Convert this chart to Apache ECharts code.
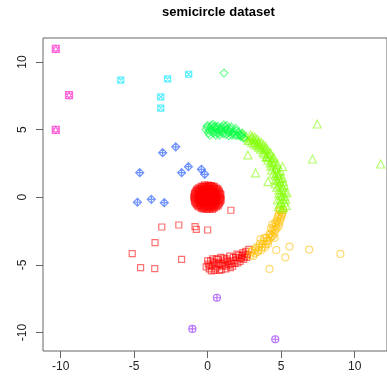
<!DOCTYPE html>
<html><head><meta charset="utf-8">
<script src="https://cdn.jsdelivr.net/npm/echarts@6/dist/echarts.min.js"></script>
<style>html,body{margin:0;padding:0;background:#fff}#c{width:387px;height:383px}</style>
</head><body><div id="c"></div>
<script>
const title = "semicircle dataset";
const xTicks = [-10, -5, 0, 5, 10];
const yTicks = [-10, -5, 0, 5, 10];

// cluster 1 (red squares): dense blob, scattered points, lower arc
const redBlob = [
 [-0.2,0.92],[0.05,0.9],[0.25,0.87],
 [-0.3,0.82],[-0.05,0.8],[0.2,0.84],[0.35,0.78],
 [-0.6,0.7],[-0.4,0.74],[-0.2,0.69],[0.0,0.72],[0.2,0.7],[0.4,0.73],[0.58,0.68],
 [-0.75,0.53],[-0.55,0.57],[-0.35,0.52],[-0.15,0.56],[0.05,0.54],[0.25,0.58],[0.45,0.52],[0.7,0.55],
 [-0.85,0.35],[-0.62,0.39],[-0.45,0.34],[-0.25,0.38],[-0.05,0.36],[0.15,0.4],[0.35,0.35],[0.55,0.38],[0.8,0.36],
 [-0.9,0.17],[-0.7,0.2],[-0.5,0.16],[-0.3,0.19],[-0.1,0.15],[0.1,0.2],[0.3,0.17],[0.5,0.21],[0.7,0.16],[0.9,0.19],
 [-0.95,0.01],[-0.75,-0.02],[-0.55,0.03],[-0.35,-0.01],[-0.15,0.02],[0.05,-0.03],[0.25,0.0],[0.45,0.03],[0.65,-0.02],[0.88,0.01],
 [-0.9,-0.17],[-0.68,-0.2],[-0.48,-0.16],[-0.28,-0.19],[-0.08,-0.15],[0.12,-0.2],[0.32,-0.17],[0.52,-0.21],[0.72,-0.16],[0.92,-0.18],
 [-0.85,-0.36],[-0.65,-0.39],[-0.42,-0.34],[-0.22,-0.38],[0.0,-0.36],[0.2,-0.4],[0.4,-0.35],[0.6,-0.38],[0.82,-0.37],
 [-0.75,-0.54],[-0.52,-0.57],[-0.32,-0.53],[-0.12,-0.56],[0.08,-0.52],[0.3,-0.57],[0.5,-0.54],[0.72,-0.55],
 [-0.6,-0.71],[-0.38,-0.74],[-0.18,-0.7],[0.02,-0.73],[0.22,-0.69],[0.42,-0.74],[0.6,-0.7],
 [-0.32,-0.86],[-0.1,-0.9],[0.12,-0.87],[0.33,-0.89],
 [-0.45,0.8],[-0.15,0.79],[0.1,0.81],[0.45,0.8],
 [-0.7,0.63],[-0.5,0.62],[-0.3,0.64],[-0.1,0.62],[0.1,0.64],[0.3,0.62],[0.5,0.64],[0.68,0.62],
 [-0.8,0.46],[-0.65,0.45],[-0.45,0.47],[-0.25,0.45],[-0.05,0.47],[0.15,0.45],[0.35,0.47],[0.6,0.45],[0.78,0.46],
 [-0.88,0.28],[-0.6,0.27],[-0.35,0.29],[-0.15,0.27],[0.05,0.29],[0.25,0.27],[0.45,0.29],[0.65,0.27],[0.85,0.28],
 [-0.85,0.09],[-0.65,0.08],[-0.45,0.1],[-0.25,0.08],[-0.05,0.1],[0.15,0.08],[0.35,0.1],[0.55,0.08],[0.78,0.09],
 [-0.8,-0.09],[-0.6,-0.08],[-0.4,-0.1],[-0.2,-0.08],[0.0,-0.1],[0.2,-0.08],[0.4,-0.1],[0.6,-0.08],[0.82,-0.09],
 [-0.88,-0.28],[-0.55,-0.27],[-0.35,-0.29],[-0.12,-0.27],[0.1,-0.29],[0.3,-0.27],[0.5,-0.29],[0.7,-0.27],[0.88,-0.28],
 [-0.8,-0.46],[-0.55,-0.45],[-0.32,-0.47],[-0.1,-0.45],[0.12,-0.47],[0.35,-0.45],[0.55,-0.47],[0.78,-0.46],
 [-0.68,-0.63],[-0.48,-0.62],[-0.28,-0.64],[-0.08,-0.62],[0.12,-0.64],[0.32,-0.62],[0.52,-0.64],[0.7,-0.63],
 [-0.45,-0.8],[-0.22,-0.81],[0.0,-0.79],[0.22,-0.81],[0.45,-0.8]
];
const redScatter = [
 [-3.12,-2.2],[-1.96,-2.05],[-0.86,-2.17],[-0.77,-2.37],[0.0,-2.42],[-3.58,-3.36],
 [-5.13,-4.17],[-4.56,-5.2],[-3.6,-5.28],[-1.77,-4.59],[1.58,-0.96]
];
const redArc = [
 [0.05,-4.95],[0.1,-5.3],[0.2,-4.7],[0.3,-5.1],[0.45,-5.4],[0.5,-4.85],[0.65,-5.15],[0.7,-4.6],
 [0.85,-5.0],[0.95,-5.35],[1.05,-4.8],[1.2,-5.1],[1.3,-4.55],[1.4,-4.95],[1.55,-5.2],[1.6,-4.7],
 [1.75,-4.45],[1.85,-4.9],[1.95,-4.65],[2.1,-4.3],[2.2,-4.75],[2.3,-4.5],[2.4,-4.1],[2.5,-4.4],
 [2.6,-4.0],[2.7,-4.25],[2.8,-3.85],[0.35,-4.55],[0.9,-4.45],[1.5,-4.35],[-0.1,-5.15],[0.25,-5.45],
 [0.15,-5.05],[0.4,-4.8],[0.55,-5.3],[0.75,-4.9],[0.8,-5.4],[1.0,-5.05],[1.15,-4.65],[1.25,-5.3],
 [1.35,-4.75],[1.5,-5.0],[1.65,-4.9],[1.7,-5.1],[1.9,-4.45],[2.05,-4.85],[2.15,-4.5],[2.35,-4.3],
 [2.45,-4.6],[2.55,-4.2],[2.65,-4.45],[0.0,-4.7],[0.6,-4.55],[1.1,-4.5],[2.0,-4.2]
];
// cluster 2 (orange circles)
const orangeArc = [
 [2.9,-4.3],[3.05,-3.95],[3.2,-4.15],[3.3,-3.7],[3.45,-3.95],[3.55,-3.45],[3.7,-3.7],[3.8,-3.25],
 [3.95,-3.5],[4.0,-3.0],[4.15,-3.2],[4.2,-2.75],[4.35,-2.9],[4.4,-2.45],[4.55,-2.65],[4.5,-2.2],
 [4.7,-2.3],[4.6,-1.9],[4.8,-1.95],[4.75,-1.55],[4.95,-1.6],[4.85,-1.25],[5.05,-1.3],[4.95,-1.0],
 [5.15,-0.95],[4.55,-3.0],[3.6,-3.1],[4.3,-2.3],
 [2.95,-4.05],[3.1,-4.35],[3.25,-3.85],[3.4,-4.05],[3.5,-3.7],[3.65,-3.9],[3.75,-3.45],[3.9,-3.7],
 [4.05,-3.25],[4.1,-3.45],[4.25,-3.0],[4.3,-2.7],[4.45,-2.85],[4.6,-2.4],[4.65,-2.1],[4.85,-2.15],
 [4.7,-1.75],[4.9,-1.8],[4.8,-1.4],[5.0,-1.45],[5.1,-1.15],[4.9,-0.95],[3.85,-3.0],[4.4,-2.0]
];
const orangeOut = [[4.67,-3.9],[5.57,-3.65],[6.91,-3.87],[9.03,-4.19],[5.28,-4.44],[4.21,-5.3]];
// cluster 3 (chartreuse triangles)
const limeArc = [
 [5.05,-0.85],[4.8,-0.7],[5.35,-0.6],[5.0,-0.4],[4.75,-0.2],[5.3,-0.15],[5.1,0.1],[4.85,0.3],
 [5.4,0.35],[5.05,0.55],[4.7,0.75],[5.2,0.9],[4.95,1.1],[4.6,1.3],[5.1,1.45],[4.8,1.6],
 [4.45,1.75],[4.95,1.95],[4.6,2.1],[4.3,2.3],[4.75,2.45],[4.4,2.65],[4.1,2.75],[4.5,2.95],
 [4.15,3.05],[3.85,3.2],[4.25,3.35],[3.9,3.5],[3.6,3.55],[3.95,3.75],[3.55,3.8],[3.3,3.85],
 [3.65,4.05],[3.25,4.1],[3.0,4.05],[3.35,4.3],[2.95,4.35],[2.75,4.2],[3.05,4.5],[4.1,1.15],
 [2.74,3.13],[5.1,2.26],[4.0,3.0],[4.6,1.0],[2.5,4.55],[2.35,4.7],
 [5.15,-0.75],[4.9,-0.5],[5.2,-0.35],[4.95,-0.1],[5.25,0.05],[4.95,0.15],[5.25,0.45],[4.85,0.55],
 [5.1,0.75],[4.85,0.9],[5.15,1.15],[4.75,1.25],[4.9,1.4],[4.6,1.6],[4.85,1.75],[4.7,1.85],
 [4.35,2.0],[4.7,2.2],[4.45,2.4],[4.6,2.6],[4.25,2.55],[4.35,2.85],[4.0,2.95],[4.3,3.15],
 [4.05,3.25],[3.75,3.35],[4.05,3.55],[3.75,3.65],[3.45,3.7],[3.8,3.9],[3.45,3.95],[3.15,3.95],
 [3.5,4.15],[3.15,4.25],[2.85,4.25],[3.2,4.45],[2.65,4.45],[2.9,4.6]
];
const limeOut = [[7.45,5.42],[7.13,2.83],[11.77,2.46],[3.26,1.8]];
// cluster 4 (green diamonds)
const greenArc = [
 [-0.1,5.0],[0.0,5.3],[0.05,4.75],[0.2,5.15],[0.3,4.9],[0.35,5.4],[0.5,5.05],[0.6,4.8],
 [0.7,5.25],[0.85,4.95],[0.95,5.2],[1.05,4.7],[1.2,5.0],[1.3,5.3],[1.4,4.8],[1.55,5.05],
 [1.65,4.6],[1.8,4.85],[1.9,5.1],[2.0,4.55],[2.1,4.8],[2.25,4.5],[2.35,4.75],[2.45,4.4],
 [0.15,4.6],[0.8,4.6],[1.45,4.55],[0.45,5.2],[1.1,5.35],
 [0.1,4.95],[0.25,5.3],[0.4,4.75],[0.55,5.25],[0.65,5.0],[0.75,4.75],[0.9,5.05],[1.0,4.85],
 [1.15,5.2],[1.25,4.65],[1.35,5.05],[1.5,4.85],[1.6,5.2],[1.7,4.75],[1.85,4.6],[1.95,4.9],
 [2.15,4.6],[2.3,4.55],[-0.05,5.2],[0.55,4.6]
];
const greenOut = [[1.11,9.19]];
// cluster 5 (cyan squares with x)
const cyanPts = [[-5.91,8.67],[-2.72,8.75],[-3.19,7.42],[-3.19,6.6],[-1.29,9.1]];
// cluster 6 (blue diamonds with plus)
const bluePts = [[-4.62,1.82],[-3.06,3.3],[-2.17,3.73],[-1.77,1.82],[-1.31,2.26],[-0.43,2.07],
 [-0.2,1.7],[-4.78,-0.37],[-3.83,-0.15],[-2.95,-0.4]];
// cluster 7 (purple circles with plus)
const purplePts = [[0.63,-7.43],[-1.04,-9.74],[4.6,-10.5]];
// cluster 8 (magenta squares with triangle)
const magentaPts = [[-10.33,10.97],[-9.43,7.55],[-10.33,4.98]];

const clusters = [
 {data: redBlob.concat(redScatter, redArc), color: 'rgba(255,0,0,0.7)', symbol: 'rect', size: 6},
 {data: orangeArc.concat(orangeOut), color: 'rgba(255,191,0,0.7)', symbol: 'circle', size: 7},
 {data: limeArc.concat(limeOut), color: 'rgba(128,255,0,0.7)', symbol: 'triangle', size: 8},
 {data: greenArc.concat(greenOut), color: 'rgba(0,255,64,0.7)', symbol: 'diamond', size: 8},
 {data: cyanPts, color: 'rgba(0,230,255,0.8)', symbol: 'path://M0,0H10V10H0Z M0,0L10,10 M10,0L0,10', size: 6},
 {data: bluePts, color: 'rgba(0,64,255,0.7)', symbol: 'path://M5,0L10,5L5,10L0,5Z M5,0V10 M0,5H10', size: 8},
 {data: purplePts, color: 'rgba(128,0,255,0.7)', symbol: 'path://M0,5A5,5 0 1,0 10,5A5,5 0 1,0 0,5Z M5,0V10 M0,5H10', size: 7},
 {data: magentaPts, color: 'rgba(255,0,191,0.75)', symbol: 'path://M0,0H10V10H0Z M0,10L5,0L10,10 M0,0L5,10L10,0', size: 7}
];

const chart = echarts.init(document.getElementById('c'), null, {renderer: 'canvas'});
const font = 'Liberation Sans, Arial, sans-serif';
chart.setOption({
  animation: false,
  backgroundColor: '#fff',
  title: {text: title, left: 162, top: 6, padding: 0,
    textStyle: {fontFamily: font, fontWeight: 'bold', fontSize: 13, color: '#000'}},
  grid: {left: 43, right: 0, top: 38, bottom: 32, show: true, borderColor: '#666', borderWidth: 1, backgroundColor: 'transparent'},
  xAxis: {type: 'value', min: -11.2, max: 12.2, interval: 5,
    axisLine: {show: false, onZero: false}, splitLine: {show: false},
    axisTick: {show: true, length: 7, lineStyle: {color: '#666'}, customValues: xTicks},
    axisLabel: {margin: 10, fontFamily: font, fontSize: 12, color: '#222', customValues: xTicks}},
  yAxis: {type: 'value', min: -11.37, max: 11.78, interval: 5,
    axisLine: {show: false, onZero: false}, splitLine: {show: false},
    axisTick: {show: true, length: 7, lineStyle: {color: '#666'}, customValues: yTicks},
    axisLabel: {margin: 14, rotate: 90, fontFamily: font, fontSize: 12, color: '#222', customValues: yTicks}},
  series: clusters.map(c => ({
    type: 'scatter', data: c.data, symbol: c.symbol, symbolSize: c.size,
    itemStyle: {color: 'rgba(0,0,0,0)', borderColor: c.color, borderWidth: 1.2},
    emphasis: {disabled: true}, silent: true
  }))
});
</script></body></html>
